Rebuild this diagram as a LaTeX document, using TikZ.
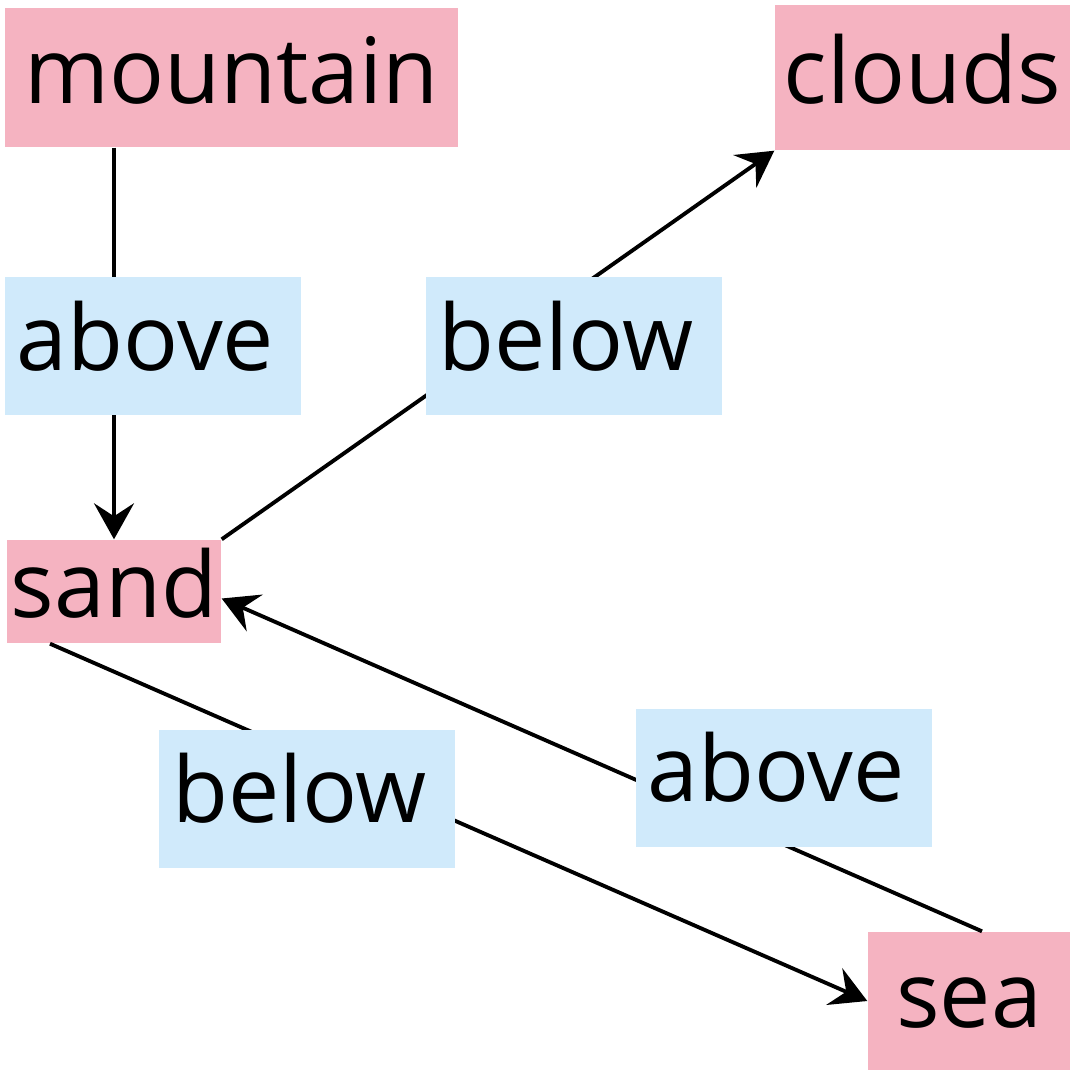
\documentclass[tikz,border=0pt]{standalone}
\usepackage{fontspec}
\setmainfont{Open Sans}
\usepackage{xcolor}
\usetikzlibrary{positioning,calc,arrows.meta}
\definecolor{thingpink}{HTML}{F5B3C1}
\definecolor{relblue}{HTML}{D0EAFB}
\begin{document}
\begin{tikzpicture}[x=1cm, y=1cm,
    thing/.style={fill=thingpink, inner sep=0pt, text height=0.62cm, text depth=0.10cm, font=\fontsize{26}{30}\selectfont},
    rel/.style={fill=relblue, inner sep=0pt, minimum width=2.96cm, minimum height=1.38cm, text height=0.62cm, text depth=0.14cm, font=\fontsize{26}{30}\selectfont},
    link/.style={line width=1.1pt, -{Stealth[length=0.36cm, width=0.40cm, inset=0.13cm]}}]
    \useasboundingbox (0,0) rectangle (10.70,-10.71);

    % things
    \node[thing, minimum width=4.53cm, minimum height=1.39cm] (mountain) at (2.315,-0.775) {mountain};
    \node[thing, minimum width=2.95cm, minimum height=1.45cm] (clouds) at (9.225,-0.775) {clouds};
    \node[thing, minimum width=2.14cm, minimum height=1.03cm] (sand) at (1.14,-5.915) {sand};
    \node[thing, minimum width=2.02cm, minimum height=1.38cm] (sea) at (9.69,-10.01) {sea};

    % links
    \draw[link] (mountain.south -| sand.north) -- (sand.north);
    \draw[link] (sand.north east) -- (clouds.south west);
    \draw[link] ([xshift=0.13cm]sea.north) -- ([yshift=-0.07cm]sand.east);
    \draw[link] ([xshift=-0.64cm]sand.south) -- (sea.west);

    % relation labels
    \node[rel] (above1) at (1.53,-3.46) {above\hspace*{0.15cm}};
    \node[rel] (below1) at (5.735,-3.46) {below\hspace*{0.15cm}};
    \node[rel] (below2) at (3.07,-7.985) {below\hspace*{0.15cm}};
    \node[rel] (above2) at (7.835,-7.775) {above\hspace*{0.15cm}};
\end{tikzpicture}
\end{document}
